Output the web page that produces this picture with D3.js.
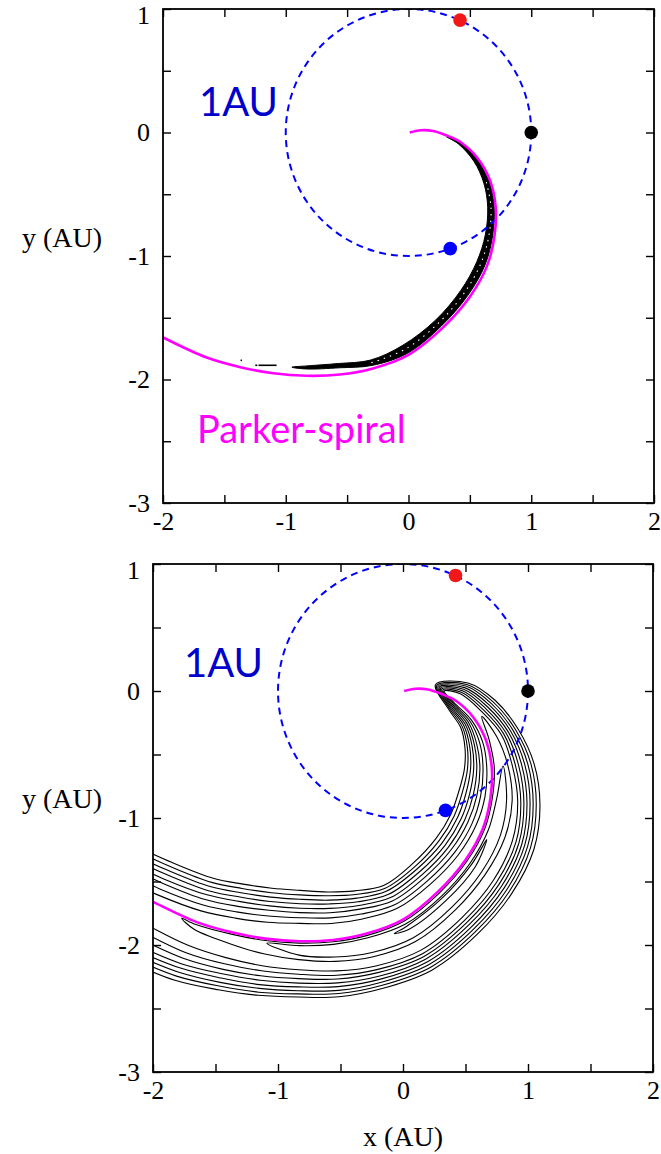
<!DOCTYPE html>
<html>
<head>
<meta charset="utf-8">
<script src="https://cdn.jsdelivr.net/npm/d3@7"></script>
<style>
  body { margin: 0; background: #fff; }
  svg { display: block; }
</style>
</head>
<body>
<svg id="chart" width="661" height="1154"></svg>
<script>
// ---------------- data (AU) ----------------
// Parker spiral track; the last point lies beyond the left frame and is clipped
const parkerX = [0.01, 0.10, 0.20, 0.30, 0.42, 0.565, 0.665, 0.71, 0.70, 0.64, 0.50, 0.28, 0.0, -0.29, -0.56, -0.83, -1.10, -1.37, -1.65, -2.0, -2.32];
const parkerY = [0.0, 0.018, 0.012, -0.02, -0.075, -0.21, -0.39, -0.60, -0.84, -1.08, -1.33, -1.58, -1.80, -1.91, -1.96, -1.97, -1.95, -1.90, -1.82, -1.66, -1.50];

const orbitRadius = 1;
const bodyX = [0.42, 1.0, 0.34];
const bodyY = [0.91, 0.0, -0.94];
const bodyColor = ["#f01818", "#000000", "#0000ff"];

const xMajorTicks = [-2, -1, 0, 1, 2];
const yMajorTicks = [-3, -2, -1, 0, 1];
const minorStep = 0.5;

// Lower panel contours: signed distance from the spiral (+ = away from the Sun),
// listed at spiral points 4..20. Eight nested rings wrap round the tip near the Sun.
const ringFirst = 4;
const ringInner = [
  [-0.09, -0.13, -0.18, -0.22, -0.26, -0.28, -0.29, -0.30, -0.31, -0.35, -0.38, -0.40, -0.40, -0.39, -0.37, -0.345, -0.33],
  [-0.08, -0.115, -0.16, -0.195, -0.23, -0.25, -0.26, -0.27, -0.285, -0.32, -0.35, -0.365, -0.365, -0.355, -0.335, -0.31, -0.295],
  [-0.07, -0.10, -0.14, -0.17, -0.20, -0.22, -0.23, -0.245, -0.26, -0.29, -0.315, -0.33, -0.33, -0.32, -0.30, -0.275, -0.26],
  [-0.06, -0.085, -0.12, -0.145, -0.17, -0.19, -0.20, -0.215, -0.23, -0.26, -0.285, -0.295, -0.295, -0.285, -0.265, -0.24, -0.225],
  [-0.05, -0.07, -0.10, -0.12, -0.14, -0.16, -0.17, -0.185, -0.20, -0.23, -0.25, -0.26, -0.26, -0.25, -0.23, -0.20, -0.19],
  [-0.04, -0.055, -0.08, -0.095, -0.11, -0.13, -0.14, -0.155, -0.17, -0.20, -0.215, -0.225, -0.225, -0.21, -0.19, -0.165, -0.155],
  [-0.03, -0.04, -0.055, -0.07, -0.08, -0.095, -0.105, -0.12, -0.135, -0.16, -0.175, -0.185, -0.18, -0.165, -0.145, -0.115, -0.105],
  [-0.02, -0.025, -0.03, -0.04, -0.045, -0.06, -0.07, -0.085, -0.10, -0.12, -0.13, -0.14, -0.13, -0.115, -0.095, -0.065, -0.055]
];
const ringOuter = [
  [0.17, 0.22, 0.27, 0.34, 0.40, 0.44, 0.455, 0.46, 0.46, 0.45, 0.45, 0.44, 0.45, 0.465, 0.49, 0.51, 0.53],
  [0.155, 0.20, 0.25, 0.315, 0.37, 0.41, 0.43, 0.435, 0.435, 0.425, 0.425, 0.415, 0.425, 0.435, 0.455, 0.475, 0.495],
  [0.14, 0.18, 0.23, 0.29, 0.345, 0.385, 0.405, 0.41, 0.41, 0.40, 0.40, 0.39, 0.395, 0.405, 0.42, 0.44, 0.455],
  [0.125, 0.16, 0.21, 0.265, 0.32, 0.36, 0.38, 0.385, 0.385, 0.375, 0.37, 0.36, 0.365, 0.37, 0.385, 0.405, 0.42],
  [0.11, 0.14, 0.19, 0.24, 0.295, 0.335, 0.355, 0.36, 0.36, 0.35, 0.34, 0.33, 0.33, 0.335, 0.35, 0.365, 0.38],
  [0.095, 0.12, 0.17, 0.215, 0.27, 0.31, 0.33, 0.335, 0.335, 0.32, 0.31, 0.295, 0.295, 0.30, 0.305, 0.31, 0.32],
  [0.08, 0.10, 0.15, 0.19, 0.245, 0.285, 0.305, 0.31, 0.31, 0.295, 0.28, 0.26, 0.255, 0.255, 0.255, 0.25, 0.25],
  [0.065, 0.08, 0.13, 0.165, 0.22, 0.255, 0.275, 0.28, 0.28, 0.265, 0.245, 0.225, 0.215, 0.205, 0.195, 0.185, 0.185]
];
const ringTipX = [0.26, 0.27, 0.28, 0.29, 0.30, 0.31, 0.32, 0.33];
const ringTipY = [0.05, 0.043, 0.036, 0.029, 0.022, 0.015, 0.008, 0.0];

// Closed loops on the outer flank of the spiral
const loopFirst = [6, 8, 10];
const loopInner = [
  [0.025, 0.02, 0.015, 0.015, 0.015, 0.015, 0.015, 0.015, 0.015, 0.015, 0.015, 0.015, 0.02],
  [0.05, 0.045, 0.045, 0.045, 0.04, 0.035, 0.035, 0.035],
  [0.06, 0.06, 0.06]
];
const loopOuter = [
  [0.09, 0.13, 0.175, 0.19, 0.195, 0.20, 0.20, 0.19, 0.17, 0.145, 0.12, 0.09, 0.06],
  [0.13, 0.15, 0.16, 0.165, 0.165, 0.155, 0.135, 0.11],
  [0.095, 0.095, 0.09]
];
const loopHeadX = [0.63, 0.80, 0.67];
const loopHeadY = [-0.20, -0.59, -1.17];
const loopTailX = [-1.77, -1.09, -0.07];
const loopTailY = [-1.79, -1.985, -1.91];

// Upper panel: thin contour sheet hugging the inside of the spiral, points 4..15
const sheetFirst = 4;
const sheetOuter = [-0.006, -0.008, -0.01, -0.012, -0.015, -0.018, -0.02, -0.018, -0.015, -0.025, -0.055, -0.055];
const sheetInner = [-0.022, -0.04, -0.055, -0.065, -0.075, -0.09, -0.09, -0.085, -0.09, -0.07, -0.09, -0.08];
const sheetStart = [0.31, -0.035];
const sheetEnd = [-0.95, -1.90];
const fragmentX = [[-1.248, -1.232], [-1.222, -1.075], [-1.368, -1.356]];
const fragmentY = [[-1.885, -1.885], [-1.885, -1.885], [-1.845, -1.845]];

// ---------------- geometry along the spiral ----------------
const track = parkerX.map((px, i) => [px, parkerY[i]]);
const normals = track.map((p, i) => {
  const a = track[Math.max(0, i - 1)];
  const b = track[Math.min(track.length - 1, i + 1)];
  const dx = b[0] - a[0], dy = b[1] - a[1], L = Math.hypot(dx, dy);
  return [-dy / L, dx / L];
});
const along = (i, d) => [track[i][0] + normals[i][0] * d, track[i][1] + normals[i][1] * d];

function ringPoints(k) {
  const pts = [];
  for (let j = ringInner[k].length - 1; j >= 0; j--) pts.push(along(ringFirst + j, ringInner[k][j]));
  pts.push([ringTipX[k], ringTipY[k]]);
  ringOuter[k].forEach((d, j) => pts.push(along(ringFirst + j, d)));
  return pts;
}
function loopPoints(k) {
  const pts = [[loopHeadX[k], loopHeadY[k]]];
  loopInner[k].forEach((d, j) => pts.push(along(loopFirst[k] + j, d)));
  pts.push([loopTailX[k], loopTailY[k]]);
  for (let j = loopOuter[k].length - 1; j >= 0; j--) pts.push(along(loopFirst[k] + j, loopOuter[k][j]));
  return pts;
}
function sheetPoints() {
  const pts = [sheetStart];
  sheetOuter.forEach((d, j) => pts.push(along(sheetFirst + j, d)));
  pts.push(sheetEnd);
  for (let j = sheetInner.length - 1; j >= 0; j--) pts.push(along(sheetFirst + j, sheetInner[j]));
  return pts;
}

// ---------------- drawing ----------------
const svg = d3.select("#chart");
const serif = "'Liberation Serif', 'Times New Roman', serif";
const sans = "Lato, 'Open Sans', sans-serif";

const panels = [
  { id: "upper", left: 163, right: 654, top: 9, bottom: 503, full: false, auLabel: [199, 116], titleY: 247 },
  { id: "lower", left: 153, right: 653, top: 564, bottom: 1072, full: true, auLabel: [184, 677], titleY: 808 }
];

panels.forEach(p => {
  const x = d3.scaleLinear().domain([-2, 2]).range([p.left, p.right]);
  const y = d3.scaleLinear().domain([-3, 1]).range([p.bottom, p.top]);
  const g = svg.append("g");

  g.append("clipPath").attr("id", "clip-" + p.id)
    .append("rect")
    .attr("x", p.left).attr("y", p.top)
    .attr("width", p.right - p.left).attr("height", p.bottom - p.top);

  const plot = g.append("g").attr("clip-path", `url(#clip-${p.id})`);
  const open = d3.line().x(d => x(d[0])).y(d => y(d[1])).curve(d3.curveCatmullRom.alpha(0.5));
  const closed = d3.line().x(d => x(d[0])).y(d => y(d[1])).curve(d3.curveCatmullRomClosed.alpha(0.5));

  if (p.full) {
    const cont = plot.append("g").attr("fill", "none").attr("stroke", "#000").attr("stroke-width", 1.1);
    ringInner.forEach((_, k) => cont.append("path").attr("d", open(ringPoints(k))));
    loopInner.forEach((_, k) => cont.append("path").attr("d", closed(loopPoints(k))));
  } else {
    plot.append("path").attr("d", closed(sheetPoints()))
      .attr("fill", "#000").attr("stroke", "#000").attr("stroke-width", 1);
    const mid = sheetOuter.map((d, j) => along(sheetFirst + j, (d + sheetInner[j]) / 2)).slice(2, 10);
    plot.append("path").attr("d", open(mid))
      .attr("fill", "none").attr("stroke", "#fff").attr("stroke-width", 1.1)
      .attr("stroke-dasharray", "1.5 5");
    fragmentX.forEach((fx, i) => {
      plot.append("path")
        .attr("d", d3.line().x(d => x(d[0])).y(d => y(d[1]))(fx.map((v, j) => [v, fragmentY[i][j]])))
        .attr("stroke", "#000").attr("stroke-width", 1.6).attr("fill", "none");
    });
  }

  // 1 AU orbit
  plot.append("ellipse")
    .attr("cx", x(0)).attr("cy", y(0))
    .attr("rx", x(orbitRadius) - x(0)).attr("ry", y(0) - y(orbitRadius))
    .attr("fill", "none").attr("stroke", "#0000ff").attr("stroke-width", 2)
    .attr("stroke-dasharray", "7 5");

  // Parker spiral
  plot.append("path").attr("d", open(track))
    .attr("fill", "none").attr("stroke", "#ff00ff").attr("stroke-width", 2.6);

  // bodies on the orbit
  bodyX.forEach((bx, i) => {
    g.append("circle").attr("cx", x(bx)).attr("cy", y(bodyY[i])).attr("r", 6.8)
      .attr("fill", bodyColor[i]);
  });

  // axes with inward ticks on all four sides
  const xAll = d3.range(-2, 2 + 1e-9, minorStep);
  const yAll = d3.range(-3, 1 + 1e-9, minorStep);
  const styleAxis = sel => {
    sel.select(".domain").remove();
    sel.selectAll(".tick line").attr("stroke", "#000").attr("stroke-width", 1.4);
    sel.selectAll("text").attr("font-family", serif).attr("font-size", 26).attr("fill", "#000");
  };
  g.append("g").attr("transform", `translate(0,${p.bottom})`)
    .call(d3.axisBottom(x).tickValues(xAll).tickSize(-8).tickPadding(9)
      .tickFormat(d => xMajorTicks.includes(d) ? String(d) : ""))
    .call(styleAxis);
  g.append("g").attr("transform", `translate(0,${p.top})`)
    .call(d3.axisTop(x).tickValues(xAll).tickSize(-8).tickFormat(""))
    .call(styleAxis);
  const leftAxis = g.append("g").attr("transform", `translate(${p.left},0)`)
    .call(d3.axisLeft(y).tickValues(yAll).tickSize(-8).tickPadding(13)
      .tickFormat(d => yMajorTicks.includes(d) ? String(d) : ""))
    .call(styleAxis);
  // keep the top label inside the page
  leftAxis.selectAll(".tick").filter(d => d === 1).select("text").attr("dy", "0.55em");
  g.append("g").attr("transform", `translate(${p.right},0)`)
    .call(d3.axisRight(y).tickValues(yAll).tickSize(-8).tickFormat(""))
    .call(styleAxis);

  g.append("rect")
    .attr("x", p.left).attr("y", p.top)
    .attr("width", p.right - p.left).attr("height", p.bottom - p.top)
    .attr("fill", "none").attr("stroke", "#000").attr("stroke-width", 1.8);

  // annotations
  g.append("text").attr("x", p.auLabel[0]).attr("y", p.auLabel[1])
    .attr("font-family", sans).attr("font-size", 40).attr("fill", "#0000cc")
    .text("1AU");
  g.append("text").attr("x", 62).attr("y", p.titleY).attr("text-anchor", "middle")
    .attr("font-family", serif).attr("font-size", 28).attr("fill", "#000")
    .text("y (AU)");

  if (!p.full) {
    g.append("text").attr("x", 197).attr("y", 443)
      .attr("font-family", sans).attr("font-size", 38).attr("fill", "#ff00ff")
      .text("Parker-spiral");
  } else {
    g.append("text").attr("x", (p.left + p.right) / 2).attr("y", 1146).attr("text-anchor", "middle")
      .attr("font-family", serif).attr("font-size", 28).attr("fill", "#000")
      .text("x (AU)");
  }
});
</script>
</body>
</html>
